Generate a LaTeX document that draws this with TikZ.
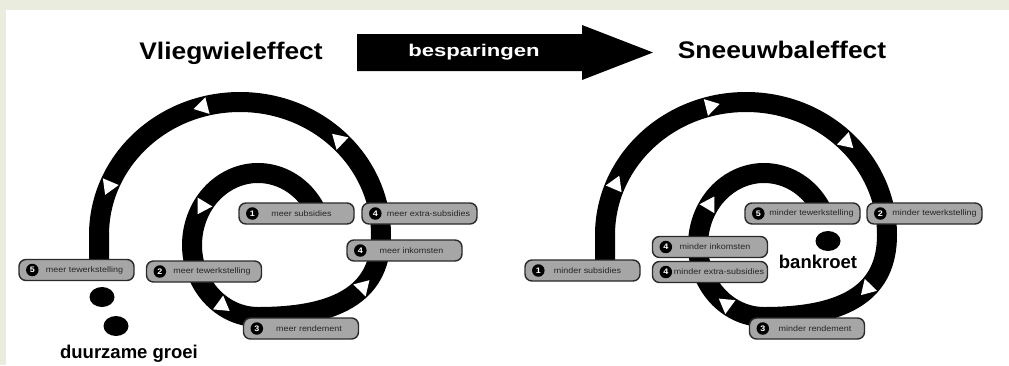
\documentclass[tikz,border=0pt]{standalone}
\usepackage{fontspec}
\setmainfont{Liberation Sans}
\newfontfamily\titlefont{Liberation Sans}[FakeStretch=1.1]
\newfontfamily\arrowfont{Liberation Sans}[FakeStretch=1.3]
\newfontfamily\lblfont{Liberation Sans}[FakeStretch=1.12]
\usetikzlibrary{shapes.geometric}
\definecolor{bggreen}{HTML}{EAEDDD}
\definecolor{lblgray}{HTML}{A6A6A6}
\definecolor{lbldraw}{HTML}{2A2A2A}
\definecolor{txtgray}{HTML}{262626}
\tikzset{
  band/.style={draw=black, line width=20pt, line cap=butt, line join=round},
  arw/.style={shape=isosceles triangle, isosceles triangle apex angle=62, fill=white, inner sep=3.9pt, sloped, allow upside down},
  lbl/.style={rounded corners=7pt, fill=lblgray, draw=lbldraw, line width=1.4pt, minimum width=115pt, minimum height=21pt, inner sep=0pt},
  num/.style={circle, fill=black, text=white, minimum size=12.5pt, inner sep=0pt, font=\lblfont\bfseries\fontsize{8}{8}\selectfont},
  ltext/.style={font=\lblfont\fontsize{8}{8}\selectfont, text=txtgray, inner sep=0pt},
  dot/.style={shape=ellipse, fill=black, minimum width=25pt, minimum height=20pt, inner sep=0pt},
  bigtitle/.style={font=\titlefont\bfseries\fontsize{24}{24}\selectfont, anchor=base},
  result/.style={font=\bfseries\fontsize{18.5}{18.5}\selectfont, anchor=base}
}
% #1 name, #2 position, #3 number, #4 text, #5 text offset
\newcommand{\lab}[5]{%
  \node[lbl] (#1) at (#2) {};
  \node[num] (#1n) at ([xshift=14pt]#1.west) {#3};
  \node[ltext] (#1t) at ([xshift=#5pt]#1.center) {#4};}
% #1 arrow rotation, #2 name prefix
\newcommand{\spiral}[2]{%
  \draw[band] (316.3,211.2) arc[start angle=-28, end angle=-270, x radius=66, y radius=72]
      node[arw, pos=0.49, shape border rotate=#1] (#2a1) {}
      node[arw, pos=0.86, shape border rotate=#1] (#2a2) {}
    .. controls (343,317) and (381,290) .. (381,235)
      node[arw, pos=0.6, shape border rotate=#1] (#2a3) {}
    arc[start angle=0, end angle=-180, x radius=141, y radius=133]
      node[arw, pos=0.25, shape border rotate=#1] (#2a4) {}
      node[arw, pos=0.583, shape border rotate=#1] (#2a5) {}
      node[arw, pos=0.878, shape border rotate=#1] (#2a6) {}
    -- (99,268);}
\begin{document}
\begin{tikzpicture}[x=1pt, y=-1pt]
\useasboundingbox (0,0) rectangle (1009,365);
\fill[bggreen] (0,0) rectangle (1009,365);
\fill[white] (6,10) rectangle (1009,365);

% headline
\node[bigtitle] (t1) at (231,59) {Vliegwieleffect};
\node[bigtitle] (t2) at (782,58) {Sneeuwbaleffect};
\fill[black] (357,34) -- (582,34) -- (582,25) -- (653,52.5) -- (582,80) -- (582,71) -- (357,71) -- cycle;
\node[font=\arrowfont\bfseries\fontsize{17}{17}\selectfont, text=white, anchor=base] (bes) at (474,56.5) {besparingen};

% left spiral
\spiral{0}{L}
% right spiral
\begin{scope}[xshift=506pt]
\spiral{180}{R}
\end{scope}

% left labels
\lab{L1}{296.5,213.5}{1}{meer subsidies}{5}
\lab{L4a}{419.5,213.5}{4}{meer extra-subsidies}{9}
\lab{L4b}{404.5,250.5}{4}{meer inkomsten}{7}
\lab{L5}{76.5,270}{5}{meer tewerkstelling}{8}
\lab{L2}{204,271.5}{2}{meer tewerkstelling}{8}
\lab{L3}{301,328.5}{3}{meer rendement}{8}
\node[dot] (g1) at (102,297) {};
\node[dot] (g2) at (116,326) {};
\node[result] (groei) at (129,358) {duurzame groei};

% right labels
\lab{R1}{582.5,270.5}{1}{minder subsidies}{5}
\lab{R4a}{710,247}{4}{minder inkomsten}{5}
\lab{R4b}{710,272}{4}{minder extra-subsidies}{9}
\lab{R5}{802.5,213.5}{5}{minder tewerkstelling}{9}
\lab{R2}{924.5,213.5}{2}{minder tewerkstelling}{10}
\lab{R3}{807,328.5}{3}{minder rendement}{8}
\node[dot] (bk) at (828,241) {};
\node[result] (bank) at (818,268) {bankroet};
\end{tikzpicture}
\end{document}
